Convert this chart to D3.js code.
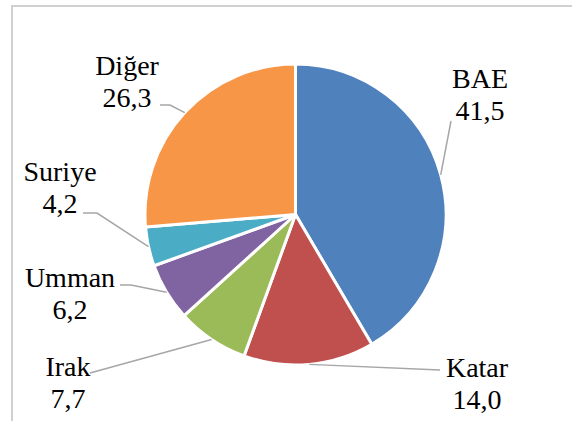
<!DOCTYPE html>
<html>
<head>
<meta charset="utf-8">
<title>Pie</title>
<script src="https://cdn.jsdelivr.net/npm/d3@7"></script>
<style>
  body { margin: 0; background: #fff; }
</style>
</head>
<body>
<script>
// data
var countries = ["BAE", "Katar", "Irak", "Umman", "Suriye", "Diğer"];
var values = [41.5, 14.0, 7.7, 6.2, 4.2, 26.3];
var valueLabels = ["41,5", "14,0", "7,7", "6,2", "4,2", "26,3"];
var colors = ["#4f81bd", "#c0504d", "#9bbb59", "#8064a2", "#4bacc6", "#f79646"];

// label layout (text centre + first baseline, then leader bend/end points)
var labelPos = [
  {x: 480, y: 88, leader: [[451, 121]]},
  {x: 477, y: 377, leader: [[440, 370]]},
  {x: 68, y: 376, leader: [[90, 373]]},
  {x: 70, y: 287, leader: [[131, 285], [120, 285]]},
  {x: 60, y: 181, leader: [[97, 213], [83, 213]]},
  {x: 127, y: 75, leader: [[170, 105], [160, 105]]}
];

var width = 572, height = 421;
var cx = 295.5, cy = 214.5, radius = 150.5;

var svg = d3.select("body").append("svg")
  .attr("width", width)
  .attr("height", height);

// frame (only top and left edge are in view)
svg.append("path")
  .attr("d", "M12," + height + "V6H" + width)
  .attr("fill", "none")
  .attr("stroke", "#d0d0d0")
  .attr("stroke-width", 2);

var pie = d3.pie().sort(null).value(function(d) { return d; });
var arcs = pie(values);

var arc = d3.arc().innerRadius(0).outerRadius(radius);

var g = svg.append("g").attr("transform", "translate(" + cx + "," + cy + ")");

g.selectAll("path.slice")
  .data(arcs)
  .enter().append("path")
  .attr("class", "slice")
  .attr("d", arc)
  .attr("fill", function(d, i) { return colors[i]; })
  .attr("stroke", "#fff")
  .attr("stroke-width", 3)
  .attr("stroke-linejoin", "round");

// leader lines start on the rim at the middle angle of each slice
var line = d3.line();
svg.selectAll("path.leader")
  .data(arcs)
  .enter().append("path")
  .attr("class", "leader")
  .attr("d", function(d, i) {
    var a = (d.startAngle + d.endAngle) / 2;
    var pts = [[cx + radius * Math.sin(a), cy - radius * Math.cos(a)]].concat(labelPos[i].leader);
    return line(pts);
  })
  .attr("fill", "none")
  .attr("stroke", "#a6a6a6")
  .attr("stroke-width", 1.5);

var labels = svg.selectAll("text.lbl")
  .data(countries)
  .enter().append("text")
  .attr("class", "lbl")
  .attr("text-anchor", "middle")
  .style("font-family", "'Liberation Serif'")
  .style("font-size", "28px")
  .attr("fill", "#000")
  .attr("transform", function(d, i) { return "translate(" + labelPos[i].x + "," + labelPos[i].y + ")"; });

labels.append("tspan").attr("x", 0).attr("y", 0).text(function(d) { return d; });
labels.append("tspan").attr("x", 0).attr("y", 32).text(function(d, i) { return valueLabels[i]; });
</script>
</body>
</html>
